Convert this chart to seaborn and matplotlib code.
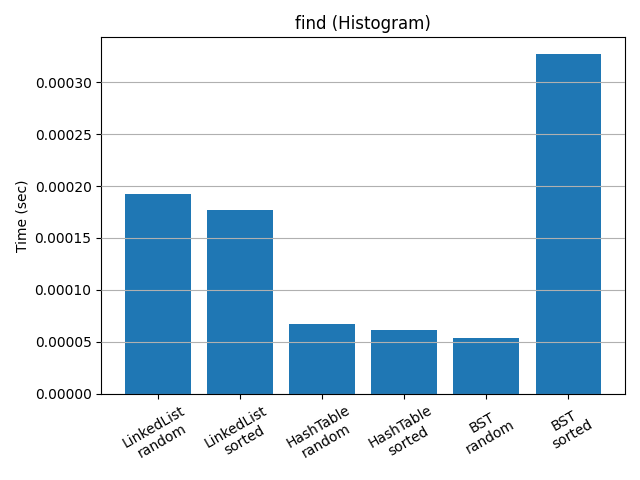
import matplotlib
matplotlib.use("Agg")
import matplotlib.pyplot as plt
import seaborn as sns

# structures and the order they were timed in
labels = ["LinkedList\nrandom", "LinkedList\nsorted", "HashTable\nrandom",
          "HashTable\nsorted", "BST\nrandom", "BST\nsorted"]
times = [0.0001923, 0.0001769, 0.0000673, 0.0000615, 0.0000538, 0.0003269]

fig, ax = plt.subplots(figsize=(6.4, 4.8), dpi=100)
sns.barplot(x=labels, y=times, color="#1f77b4", saturation=1, width=0.8, ax=ax)
ax.set_xlim(-0.69, 5.69)
ax.set_ylim(0, max(times) * 1.05)
ax.yaxis.grid(True, color="#b0b0b0")
ax.set_axisbelow(False)
ax.set_title("find (Histogram)")
ax.set_ylabel("Time (sec)")
ax.set_xlabel("")
for item in ax.get_xticklabels():
    item.set_rotation(30)
fig.tight_layout()
fig.savefig("out.png")
